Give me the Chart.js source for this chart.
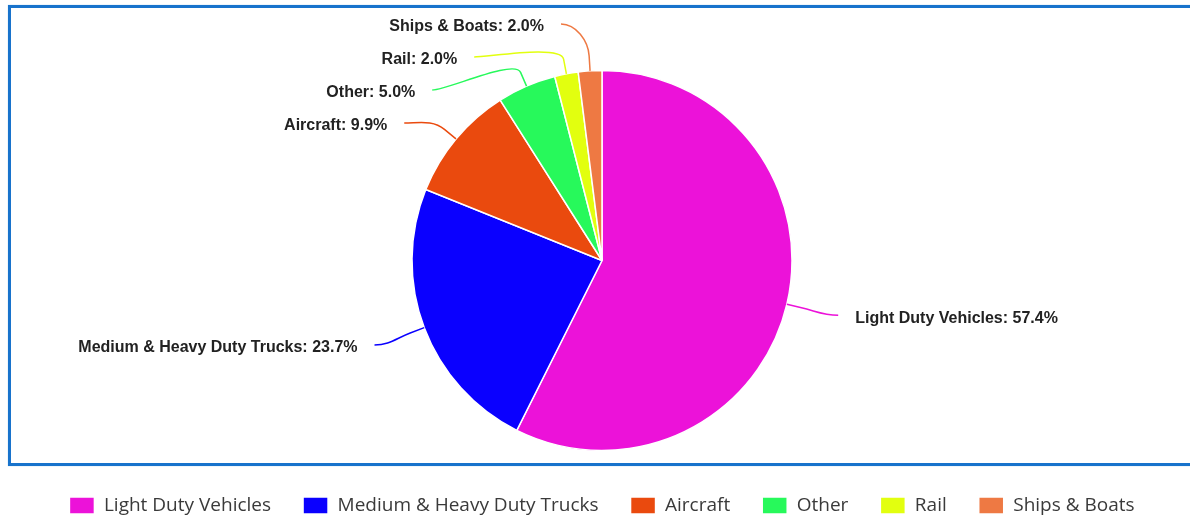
<!DOCTYPE html>
<html>
<head>
<meta charset="utf-8">
<script src="https://cdn.jsdelivr.net/npm/chart.js@4.4.1/dist/chart.umd.min.js"></script>
<style>
  html, body { margin: 0; padding: 0; background: #fff; overflow: hidden; }
  #wrap { position: absolute; left: 0; top: 0; width: 1190px; height: 525px; }
  #frame {
    position: absolute; left: 8px; top: 5px; width: 1300px; height: 455px;
    border: 3px solid #1873cc; box-shadow: 0 0 1px #9cc6ee; pointer-events: none;
  }
</style>
</head>
<body>
<div id="wrap"><canvas id="sharesChart"></canvas></div>
<div id="frame"></div>
<script>
const categories = ['Light Duty Vehicles', 'Medium & Heavy Duty Trucks', 'Aircraft', 'Other', 'Rail', 'Ships & Boats'];
const shares = [57.4, 23.7, 9.9, 5.0, 2.0, 2.0];
const sliceColors = ['#ec12d9', '#0a00ff', '#ea4a0e', '#27f95b', '#e2ff0f', '#ee7943'];

// labels outside the pie with curved leader lines
const calloutPlugin = {
  id: 'callouts',
  afterDatasetsDraw(chart, args, opts) {
    const meta = chart.getDatasetMeta(0);
    const ds = chart.data.datasets[0];
    const ctx = chart.ctx;
    const gap = opts.spacing;
    let cx = 0, cy = 0, r = 0;

    const items = meta.data.map((arc, i) => {
      const p = arc.getProps(['x', 'y', 'startAngle', 'endAngle', 'outerRadius'], true);
      cx = p.x; cy = p.y; r = p.outerRadius;
      const mid = (p.startAngle + p.endAngle) / 2;
      return {
        i, mid,
        left: Math.cos(mid) < 0,
        target: cy + Math.sin(mid) * opts.radius + 2
      };
    });

    function distribute(list) {
      list.sort((a, b) => a.target - b.target);
      const place = c => {
        let s = 0;
        c.items.forEach((it, k) => { s += it.target - k * gap; });
        c.top = Math.max(opts.minY, s / c.items.length);
      };
      const cl = list.map(it => { const c = { items: [it] }; place(c); return c; });
      let changed = true;
      while (changed) {
        changed = false;
        for (let j = 1; j < cl.length; j++) {
          const a = cl[j - 1], b = cl[j];
          if (a.top + a.items.length * gap > b.top + 0.01) {
            a.items = a.items.concat(b.items);
            place(a);
            cl.splice(j, 1);
            changed = true;
            break;
          }
        }
      }
      cl.forEach(c => c.items.forEach((it, k) => { it.ty = c.top + k * gap; }));
    }
    distribute(items.filter(it => it.left));
    distribute(items.filter(it => !it.left));

    ctx.save();
    items.forEach(it => {
      const col = ds.backgroundColor[it.i];
      const dir = it.left ? -1 : 1;
      const dy = it.ty - 5 - cy;
      const dx = Math.sqrt(Math.max(0, opts.radius * opts.radius - dy * dy));
      const ex = cx + dir * dx;
      const ey = it.ty - 3;
      const edge = { x: cx + Math.cos(it.mid) * r, y: cy + Math.sin(it.mid) * r };
      const brk = { x: cx + Math.cos(it.mid) * (r + opts.breakAt), y: cy + Math.sin(it.mid) * (r + opts.breakAt) };

      ctx.beginPath();
      ctx.moveTo(ex, ey);
      ctx.bezierCurveTo(ex - dir * 15, ey, 2 * brk.x - edge.x, 2 * brk.y - edge.y, brk.x, brk.y);
      ctx.lineTo(edge.x, edge.y);
      ctx.strokeStyle = col;
      ctx.lineWidth = 1.5;
      ctx.stroke();

      const text = chart.data.labels[it.i] + ': ' + ds.data[it.i].toFixed(1) + '%';
      ctx.font = 'bold 16px "Liberation Sans", Arial, sans-serif';
      ctx.fillStyle = '#222';
      ctx.textBaseline = 'middle';
      ctx.textAlign = it.left ? 'right' : 'left';
      ctx.fillText(text, ex + dir * opts.textGap, it.ty);
    });
    ctx.restore();
  }
};

new Chart(document.getElementById('sharesChart'), {
  type: 'pie',
  data: {
    labels: categories,
    datasets: [{
      data: shares,
      backgroundColor: sliceColors,
      borderColor: '#ffffff',
      borderWidth: 1.5,
      radius: 190
    }]
  },
  options: {
    responsive: true,
    maintainAspectRatio: false,
    animation: false,
    layout: { padding: { top: 57, left: 24, right: 10, bottom: 0 } },
    plugins: {
      legend: {
        position: 'bottom',
        labels: {
          boxWidth: 25,
          boxHeight: 17,
          padding: 32,
          color: '#3a3a3a',
          font: { family: '"Open Sans", sans-serif', size: 19 }
        }
      },
      tooltip: { enabled: false },
      callouts: { radius: 242, spacing: 33, minY: 27, breakAt: 15, textGap: 17 }
    }
  },
  plugins: [calloutPlugin]
});
</script>
</body>
</html>
